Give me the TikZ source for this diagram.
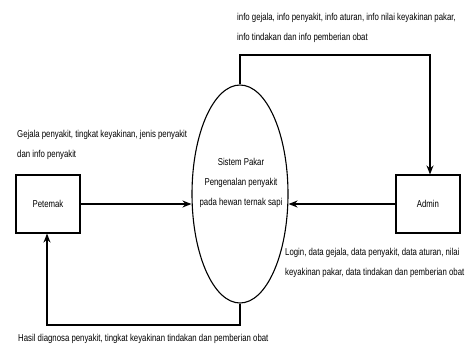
\documentclass[tikz,border=0pt]{standalone}
\usepackage{fontspec}
\setmainfont{Liberation Sans}[FakeStretch=0.78]
\usetikzlibrary{arrows.meta,shapes.geometric}
\begin{document}
\begin{tikzpicture}[x=1pt,y=-1pt,
  entity/.style={draw,line width=1.1pt,minimum width=64pt,minimum height=58pt,inner sep=0pt,font=\fontsize{10}{12}\selectfont},
  proc/.style={draw,ellipse,line width=1.1pt,minimum width=96pt,minimum height=218pt,inner sep=0pt},
  proctext/.style={align=center,inner sep=0pt,font=\fontsize{10}{20}\selectfont},
  flow/.style={line width=1.4pt,-{Stealth[length=9pt,width=7pt]}},
  lbl/.style={anchor=west,inner sep=0pt,align=left,font=\fontsize{10}{20}\selectfont}]
\useasboundingbox (0,0) rectangle (476,348);
% external entities and the process
\node[entity] (pet) at (48,204) {Petemak};
\node[entity] (adm) at (428,204) {Admin};
\node[proc] (sp) at (240,194) {};
\node[proctext] (spt) at (241,183)
  {Sistem Pakar\\Pengenalan penyakit\\pada hewan ternak sapi};
% data flows
\draw[flow] (pet.east) -- (pet.east -| sp.west);
\draw[flow] (adm.west) -- (adm.west -| sp.east);
\coordinate (tr) at (430,55);
\draw[flow] (sp.north) |- (tr) -- (tr |- adm.north);
\coordinate (bl) at (47,325);
\draw[flow] (sp.south) |- (bl) -- (bl |- pet.south);
% flow labels
\node[lbl] (l1) at (237,28) {info gejala, info penyakit, info aturan, info nilai keyakinan pakar,\\info tindakan dan info pemberian obat};
\node[lbl] (l2) at (17,145) {Gejala penyakit, tingkat keyakinan, jenis penyakit\\dan info penyakit};
\node[lbl] (l3) at (285,263) {Login, data gejala, data penyakit, data aturan, nilai\\keyakinan pakar, data tindakan dan pemberian obat};
\node[lbl] (l4) at (18,339) {Hasil diagnosa penyakit, tingkat keyakinan tindakan dan pemberian obat};
\end{tikzpicture}
\end{document}
